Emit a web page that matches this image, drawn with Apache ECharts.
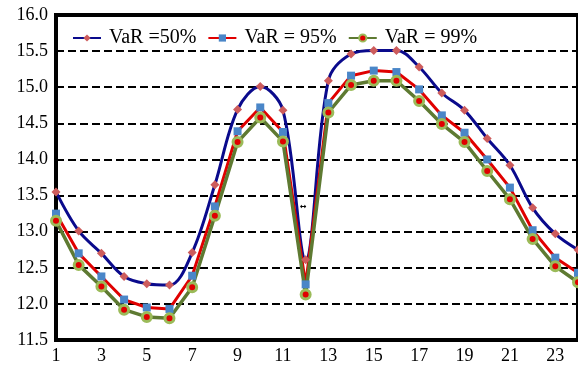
<!DOCTYPE html>
<html>
<head>
<meta charset="utf-8">
<script src="https://cdn.jsdelivr.net/npm/echarts@6/dist/echarts.min.js"></script>
<style>
  html, body { margin: 0; padding: 0; background: #fff; }
  #chart { width: 578px; height: 371px; }
</style>
</head>
<body>
<div id="chart"></div>
<script>
// hours 1..24
const hours = Array.from({ length: 24 }, (_, i) => String(i + 1));
const seriesNames = ['VaR =50%', 'VaR = 95%', 'VaR = 99%'];

const var50 = [13.55, 13.01, 12.70, 12.38, 12.28, 12.26, 12.71, 13.65, 14.69, 15.01, 14.68, 12.61,
  15.09, 15.46, 15.51, 15.51, 15.28, 14.92, 14.68, 14.29, 13.92, 13.33, 12.97, 12.75];
const var95 = [13.25, 12.70, 12.38, 12.06, 11.95, 11.93, 12.39, 13.35, 14.39, 14.72, 14.38, 12.27,
  14.78, 15.16, 15.23, 15.21, 14.97, 14.61, 14.37, 14.00, 13.61, 13.02, 12.64, 12.43];
const var99 = [13.15, 12.54, 12.24, 11.92, 11.82, 11.80, 12.23, 13.22, 14.24, 14.58, 14.25, 12.13,
  14.65, 15.03, 15.09, 15.09, 14.81, 14.49, 14.24, 13.84, 13.45, 12.90, 12.52, 12.30];

const yMin = 11.5;
const yMax = 16.0;
const yStep = 0.5;

const font = 'Liberation Serif';

const chart = echarts.init(document.getElementById('chart'));

const option = {
  animation: false,
  backgroundColor: '#fff',
  grid: {
    left: 56,
    right: -3,
    top: 15,
    bottom: 31,
    show: true,
    borderColor: '#000',
    borderWidth: 4,
  },
  legend: {
    top: 23,
    left: 67,
    itemWidth: 28,
    itemHeight: 9,
    itemGap: 11,
    textStyle: {
      fontFamily: font,
      fontSize: 20,
      color: '#000',
      padding: [0, 0, 0, 3],
    },
    data: seriesNames,
  },
  xAxis: {
    type: 'category',
    data: hours,
    boundaryGap: false,
    axisLine: { show: false },
    axisTick: { show: false },
    axisLabel: {
      interval: 1,
      margin: 7,
      fontFamily: font,
      fontSize: 18,
      color: '#000',
      // last hour sits on the clipped edge, no label there
      formatter: (v) => (v === '24' ? '' : v),
    },
  },
  yAxis: {
    type: 'value',
    min: yMin,
    max: yMax,
    interval: yStep,
    axisLine: { show: false },
    axisTick: { show: false },
    axisLabel: {
      margin: 8,
      fontFamily: font,
      fontSize: 18,
      color: '#000',
      formatter: (v) => v.toFixed(1),
    },
    splitLine: {
      show: true,
      lineStyle: { color: '#000', width: 2, type: [8, 4] },
    },
  },
  graphic: [
    {
      type: 'text',
      left: 300,
      top: 203,
      style: { text: '↔', font: 'bold 8px DejaVu Sans', fill: '#000' },
    },
  ],
  series: [
    {
      name: seriesNames[0],
      type: 'line',
      data: var50,
      smooth: 0.35,
      symbol: 'diamond',
      symbolSize: 9,
      lineStyle: { color: '#0a0a8c', width: 3 },
      itemStyle: { color: '#cd5c5c' },
    },
    {
      name: seriesNames[1],
      type: 'line',
      data: var95,
      symbol: 'rect',
      symbolSize: 8,
      lineStyle: { color: '#e00000', width: 3 },
      itemStyle: { color: '#4a86c8' },
    },
    {
      name: seriesNames[2],
      type: 'line',
      data: var99,
      symbol: 'circle',
      symbolSize: 9,
      lineStyle: { color: '#5e7a32', width: 3.5 },
      itemStyle: { color: '#e00000', borderColor: '#9bbb59', borderWidth: 3 },
    },
  ],
};

chart.setOption(option);
window.addEventListener('resize', chart.resize);
</script>
</body>
</html>
